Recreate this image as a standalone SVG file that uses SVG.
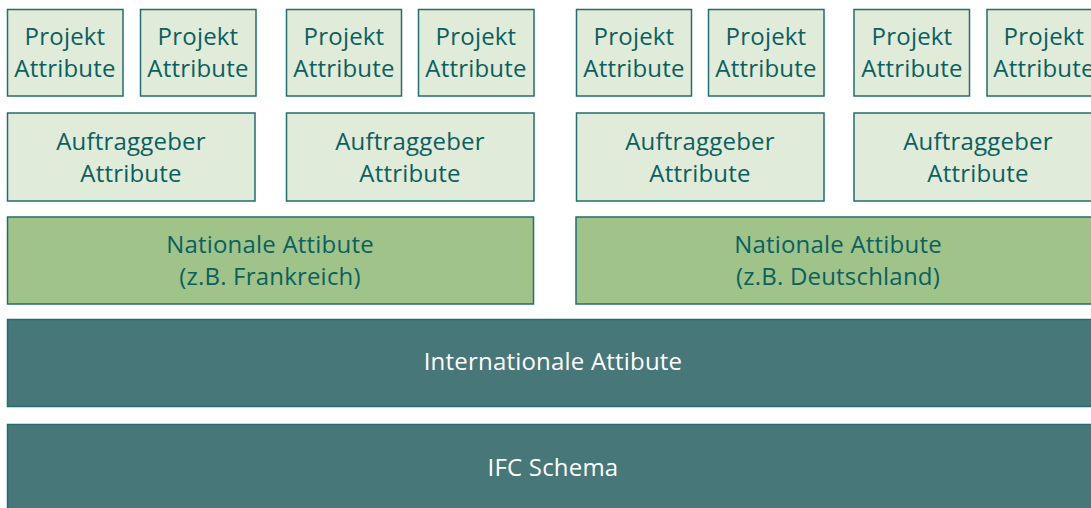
<svg xmlns="http://www.w3.org/2000/svg" width="1091" height="508" viewBox="0 0 1091 508">
  <style>
    .box { stroke: #236e6e; stroke-width: 1.5; }
    .light { fill: #e1ebd9; }
    .green { fill: #a0c38a; }
    .dark { fill: #477779; }
    text { font-family: "Open Sans", "Noto Sans", sans-serif; font-size: 24px; letter-spacing: 0.2px; text-anchor: middle; }
    .t { fill: #0b5f5f; }
    .w { fill: #ffffff; }
  </style>
  <rect width="1091" height="508" fill="#ffffff"/>

  <!-- Projekt row -->
  <g id="projekt1"><rect class="box light" x="7.5" y="9.5" width="115.5" height="86.5"/><text class="t" x="65" y="45">Projekt</text><text class="t" x="65" y="77">Attribute</text></g>
  <g id="projekt2"><rect class="box light" x="140.5" y="9.5" width="115.5" height="86.5"/><text class="t" x="198" y="45">Projekt</text><text class="t" x="198" y="77">Attribute</text></g>
  <g id="projekt3"><rect class="box light" x="286.5" y="9.5" width="115" height="86.5"/><text class="t" x="344" y="45">Projekt</text><text class="t" x="344" y="77">Attribute</text></g>
  <g id="projekt4"><rect class="box light" x="418.5" y="9.5" width="115.5" height="86.5"/><text class="t" x="476" y="45">Projekt</text><text class="t" x="476" y="77">Attribute</text></g>
  <g id="projekt5"><rect class="box light" x="576.5" y="9.5" width="115" height="86.5"/><text class="t" x="634" y="45">Projekt</text><text class="t" x="634" y="77">Attribute</text></g>
  <g id="projekt6"><rect class="box light" x="708.5" y="9.5" width="115.5" height="86.5"/><text class="t" x="766" y="45">Projekt</text><text class="t" x="766" y="77">Attribute</text></g>
  <g id="projekt7"><rect class="box light" x="854" y="9.5" width="115.5" height="86.5"/><text class="t" x="912" y="45">Projekt</text><text class="t" x="912" y="77">Attribute</text></g>
  <g id="projekt8"><rect class="box light" x="987" y="9.5" width="115.5" height="86.5"/><text class="t" x="1044" y="45">Projekt</text><text class="t" x="1044" y="77">Attribute</text></g>

  <!-- Auftraggeber row -->
  <g id="auftraggeber1"><rect class="box light" x="7.5" y="113" width="247.5" height="88"/><text class="t" x="131" y="150">Auftraggeber</text><text class="t" x="131" y="182">Attribute</text></g>
  <g id="auftraggeber2"><rect class="box light" x="286.5" y="113" width="247.5" height="88"/><text class="t" x="410" y="150">Auftraggeber</text><text class="t" x="410" y="182">Attribute</text></g>
  <g id="auftraggeber3"><rect class="box light" x="576.5" y="113" width="247.5" height="88"/><text class="t" x="700" y="150">Auftraggeber</text><text class="t" x="700" y="182">Attribute</text></g>
  <g id="auftraggeber4"><rect class="box light" x="854" y="113" width="247.5" height="88"/><text class="t" x="978" y="150">Auftraggeber</text><text class="t" x="978" y="182">Attribute</text></g>

  <!-- National row -->
  <g id="national-fr"><rect class="box green" x="7.5" y="217" width="526" height="87"/><text class="t" x="270" y="253">Nationale Attibute</text><text class="t" x="270" y="285">(z.B. Frankreich)</text></g>
  <g id="national-de"><rect class="box green" x="576" y="217" width="530" height="87"/><text class="t" x="838" y="253">Nationale Attibute</text><text class="t" x="838" y="285">(z.B. Deutschland)</text></g>

  <!-- Base layers -->
  <g id="international"><rect class="box dark" x="7.5" y="319.5" width="1095" height="87"/><text class="w" x="553" y="369.5">Internationale Attibute</text></g>
  <g id="ifc"><rect class="box dark" x="7.5" y="424.5" width="1095" height="95"/><text class="w" x="553" y="476">IFC Schema</text></g>

  <g id="connectors"/>
</svg>
